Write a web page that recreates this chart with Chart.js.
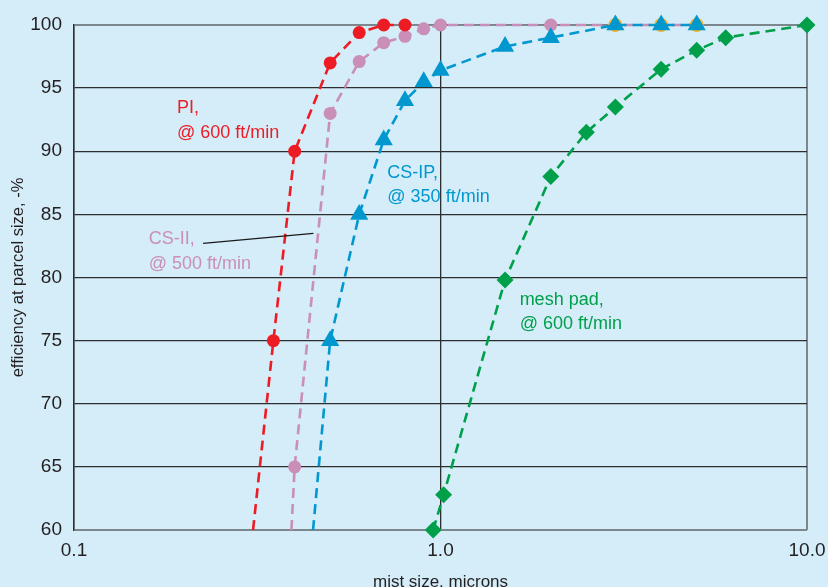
<!DOCTYPE html>
<html>
<head>
<meta charset="utf-8">
<script src="https://cdn.jsdelivr.net/npm/chart.js@4/dist/chart.umd.min.js"></script>
<style>
  html, body { margin: 0; padding: 0; background: #d5ecf9; }
  #wrap { width: 828px; height: 587px; }
</style>
</head>
<body>
<div id="wrap"><canvas id="chart" width="828" height="587"></canvas></div>
<script>
// Mist size (microns) and collection efficiency (%) for each separator
const piSize      = [0.308, 0.35, 0.4, 0.5, 0.6, 0.7, 0.8];
const piEff       = [60, 75, 90, 97, 99.4, 100, 100];

const csIISize    = [0.392, 0.4, 0.5, 0.6, 0.7, 0.8, 0.9, 1.0, 2.0, 3.0, 4.0, 5.0];
const csIIEff     = [60, 65, 93, 97.1, 98.6, 99.1, 99.7, 100, 100, 100, 100, 100];

const csIPSize    = [0.449, 0.5, 0.6, 0.7, 0.8, 0.9, 1.0, 1.5, 2.0, 3.0, 4.0, 5.0];
const csIPEff     = [60, 75, 85, 90.9, 94, 95.5, 96.4, 98.3, 99.0, 100, 100, 100];

const meshSize    = [0.955, 1.02, 1.5, 2.0, 2.5, 3.0, 4.0, 5.0, 6.0, 10.0];
const meshEff     = [60, 62.8, 79.8, 88, 91.5, 93.5, 96.5, 98, 99, 100];

const extraSize   = [3.0, 4.0, 5.0];
const extraEff    = [100, 100, 100];

const xTicks = [0.1, 1, 10];
const xTickLabels = ['0.1', '1.0', '10.0'];

const seriesNames = ['PI', 'CS-II', 'CS-IP', 'mesh pad'];

const toPoints = (xs, ys) => xs.map((x, i) => ({ x: x, y: ys[i] }));

// Curve labels: anchor at the left/baseline of the first line, in data units
const curveLabels = [
  { lines: ['PI,', '@ 600 ft/min'],       x: 0.191, y: 93.0,  step: 25, color: '#ed1c24' },
  { lines: ['CS-II,', '@ 500 ft/min'],    x: 0.160, y: 82.65, step: 25, color: '#c98fb8' },
  { lines: ['CS-IP,', '@ 350 ft/min'],    x: 0.716, y: 87.9,  step: 24, color: '#0098cf' },
  { lines: ['mesh pad,', '@ 600 ft/min'], x: 1.644, y: 77.8,  step: 24, color: '#00a04b' }
];
// Leader line from the CS-II label to its curve
const leader = { from: { x: 0.225, y: 82.7 }, to: { x: 0.45, y: 83.5 } };

const FONT = "'Liberation Sans', Arial, sans-serif";
const BG = '#d5ecf9';
const GRID_DARK = '#2e2e2e';
const GRID_EDGE = '#7b868d';

const bgPlugin = {
  id: 'bg',
  beforeDraw(chart) {
    const { ctx, width, height } = chart;
    ctx.save();
    ctx.fillStyle = BG;
    ctx.fillRect(0, 0, width, height);
    ctx.restore();
  }
};

const labelPlugin = {
  id: 'curveLabels',
  afterDatasetsDraw(chart) {
    const { ctx, scales: { x, y } } = chart;
    ctx.save();
    ctx.font = "18px " + FONT;
    ctx.textAlign = 'left';
    ctx.textBaseline = 'alphabetic';
    curveLabels.forEach(l => {
      const px = x.getPixelForValue(l.x);
      const py = y.getPixelForValue(l.y);
      ctx.fillStyle = l.color;
      l.lines.forEach((t, i) => ctx.fillText(t, px, py + i * l.step));
    });
    ctx.strokeStyle = '#1a1a1a';
    ctx.lineWidth = 1.2;
    ctx.beginPath();
    ctx.moveTo(x.getPixelForValue(leader.from.x), y.getPixelForValue(leader.from.y));
    ctx.lineTo(x.getPixelForValue(leader.to.x), y.getPixelForValue(leader.to.y));
    ctx.stroke();
    ctx.restore();
  }
};

// No marker on the point where a curve leaves the bottom of the plot
const markerRadius = (xs, r) => xs.map((v, i) => (i === 0 ? 0 : r));

const lineDefaults = {
  showLine: true,
  borderWidth: 2.6,
  borderDash: [10, 6],
  tension: 0,
  clip: false,
  fill: false
};

// Listed top-most first (Chart.js paints the first dataset last)
new Chart(document.getElementById('chart'), {
  type: 'scatter',
  data: {
    datasets: [
      Object.assign({}, lineDefaults, {
        label: seriesNames[0],
        data: toPoints(piSize, piEff),
        borderColor: '#ed1c24',
        backgroundColor: '#ed1c24',
        pointStyle: 'circle',
        pointRadius: markerRadius(piSize, 6.5),
        pointBorderWidth: 0
      }),
      Object.assign({}, lineDefaults, {
        label: seriesNames[2],
        data: toPoints(csIPSize, csIPEff),
        borderColor: '#0098cf',
        backgroundColor: '#0098cf',
        pointStyle: 'triangle',
        pointRadius: markerRadius(csIPSize, 10.5),
        pointBorderWidth: 0
      }),
      {
        label: '',
        data: toPoints(extraSize, extraEff),
        showLine: false,
        clip: false,
        backgroundColor: '#f4b324',
        borderColor: '#f4b324',
        pointStyle: 'circle',
        pointRadius: 7,
        pointBorderWidth: 0
      },
      Object.assign({}, lineDefaults, {
        label: seriesNames[1],
        data: toPoints(csIISize, csIIEff),
        borderColor: '#c98fb8',
        backgroundColor: '#c98fb8',
        pointStyle: 'circle',
        pointRadius: csIISize.map((v, i) => (i === 0 || v > 2.5 ? 0 : 6.5)),
        pointBorderWidth: 0
      }),
      Object.assign({}, lineDefaults, {
        label: seriesNames[3],
        data: toPoints(meshSize, meshEff),
        borderColor: '#00a04b',
        backgroundColor: '#00a04b',
        pointStyle: 'rectRot',
        pointRadius: meshSize.map(() => 8.5),
        pointBorderWidth: 0
      })
    ]
  },
  options: {
    responsive: false,
    animation: false,
    devicePixelRatio: 1,
    layout: { padding: { top: 25, right: 21, left: 0, bottom: 0 } },
    plugins: {
      legend: { display: false },
      tooltip: { enabled: false }
    },
    elements: { point: { hoverRadius: 0 } },
    scales: {
      x: {
        type: 'logarithmic',
        min: 0.1,
        max: 10,
        afterBuildTicks: s => { s.ticks = xTicks.map(v => ({ value: v })); },
        afterFit: s => { s.height = 57; s.paddingLeft = 0; s.paddingRight = 0; },
        ticks: {
          color: '#231f20',
          font: { family: FONT, size: 19 },
          padding: 9,
          maxRotation: 0,
          autoSkip: false,
          callback: v => xTickLabels[xTicks.indexOf(v)] ?? ''
        },
        grid: {
          drawTicks: false,
          color: c => (c.tick && c.tick.value === 10 ? GRID_EDGE : GRID_DARK),
          lineWidth: c => (c.tick && c.tick.value === 10 ? 2 : 1.3)
        },
        border: { display: false },
        title: {
          display: true,
          text: 'mist size, microns',
          color: '#231f20',
          font: { family: FONT, size: 17 },
          padding: { top: 0, bottom: -6 }
        }
      },
      y: {
        min: 60,
        max: 100,
        afterFit: s => { s.width = 74; },
        ticks: {
          stepSize: 5,
          color: '#231f20',
          font: { family: FONT, size: 19 },
          padding: 12
        },
        grid: {
          drawTicks: false,
          color: c => (c.tick && (c.tick.value === 100 || c.tick.value === 60) ? GRID_EDGE : GRID_DARK),
          lineWidth: c => (c.tick && (c.tick.value === 100 || c.tick.value === 60) ? 2 : 1.3)
        },
        border: { display: true, color: GRID_DARK, width: 1.5 },
        title: {
          display: true,
          text: 'efficiency at parcel size, -%',
          color: '#231f20',
          font: { family: FONT, size: 16.5 },
          padding: { top: 9, bottom: 0 }
        }
      }
    }
  },
  plugins: [bgPlugin, labelPlugin]
});
</script>
</body>
</html>
